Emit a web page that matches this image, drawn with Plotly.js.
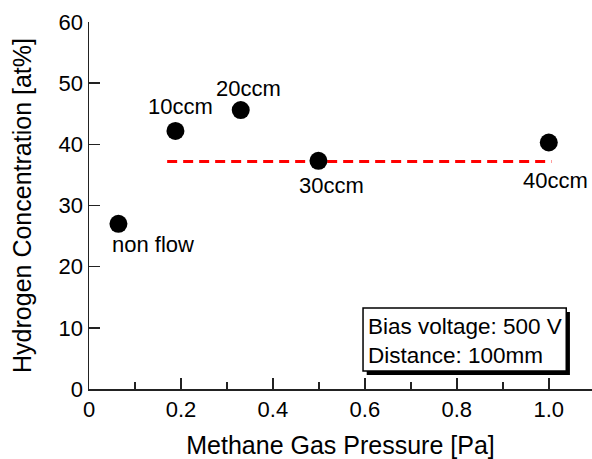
<!DOCTYPE html>
<html>
<head>
<meta charset="utf-8">
<script src="https://cdn.plot.ly/plotly-3.0.1.min.js"></script>
<style>html,body{margin:0;padding:0;background:#fff}#chart{width:592px;height:459px}</style>
</head>
<body>
<div id="chart"></div>
<script>
const pressure = [0.064, 0.188, 0.33, 0.499, 1.0];
const hydrogen = [27.0, 42.2, 45.6, 37.3, 40.3];
const pointLabels = ["non flow", "10ccm", "20ccm", "30ccm", "40ccm"];
const labelShiftX = [35, 5, 8, 13, 7];
const labelShiftY = [-21, 24, 22, -25, -38];
const avgX = [0.17, 1.006];
const avgY = [37.2, 37.2];
const xTickVals = [0, 0.2, 0.4, 0.6, 0.8, 1.0];
const xTickText = ["0", "0.2", "0.4", "0.6", "0.8", "1.0"];
const yTickVals = [0, 10, 20, 30, 40, 50, 60];
const noteLines = ["Bias voltage: 500 V", "Distance: 100mm"];

const font = "Liberation Sans, Arial, sans-serif";

const traces = [
  {x: avgX, y: avgY, mode: "lines", line: {color: "#ff0000", width: 3, dash: "10px,6px"}, hoverinfo: "skip"},
  {x: pressure, y: hydrogen, mode: "markers", marker: {color: "#000", size: 18}}
];

const annotations = pressure.map((x, i) => ({
  x: x, y: hydrogen[i], xref: "x", yref: "y", text: pointLabels[i], showarrow: false,
  xshift: labelShiftX[i], yshift: labelShiftY[i], font: {family: font, size: 22, color: "#000"}
}));
annotations.push({
  x: 0.603, y: 7.9, xref: "x", yref: "y", xanchor: "left", yanchor: "middle",
  text: noteLines.join("<br>"), align: "left", showarrow: false,
  font: {family: font, size: 22.5, color: "#000"}
});

const layout = {
  width: 592, height: 459,
  margin: {l: 89, r: 0, t: 22, b: 70},
  paper_bgcolor: "#fff", plot_bgcolor: "#fff",
  showlegend: false,
  font: {family: font, color: "#000"},
  xaxis: {
    range: [0, 1.094], tickvals: xTickVals, ticktext: xTickText,
    ticks: "inside", ticklen: 11, tickwidth: 1.5, tickcolor: "#222",
    minor: {dtick: 0.1, tick0: 0, ticks: "inside", ticklen: 7, tickwidth: 1.5, tickcolor: "#222"},
    showline: true, linecolor: "#222", linewidth: 1.5, showgrid: false, zeroline: false,
    tickfont: {family: font, size: 22, color: "#000"},
    title: {text: "Methane Gas Pressure [Pa]", font: {family: font, size: 25, color: "#000"}, standoff: 16}
  },
  yaxis: {
    range: [0, 60], tickvals: yTickVals,
    ticks: "inside", ticklen: 11, tickwidth: 1.5, tickcolor: "#222",
    showline: true, linecolor: "#222", linewidth: 1.5, showgrid: false, zeroline: false,
    tickfont: {family: font, size: 22, color: "#000"},
    title: {text: "Hydrogen Concentration [at%]", font: {family: font, size: 25, color: "#000"}, standoff: 20}
  },
  shapes: [
    {type: "rect", xref: "x", yref: "y", x0: 0.604, x1: 1.046, y0: 2.3, y1: 12.6, fillcolor: "#000", line: {width: 0}, layer: "above"},
    {type: "rect", xref: "x", yref: "y", x0: 0.596, x1: 1.038, y0: 2.94, y1: 13.24, fillcolor: "#fff", line: {color: "#000", width: 1.5}, layer: "above"}
  ],
  annotations: annotations
};

Plotly.newPlot("chart", traces, layout, {displayModeBar: false, staticPlot: true});
</script>
</body>
</html>
